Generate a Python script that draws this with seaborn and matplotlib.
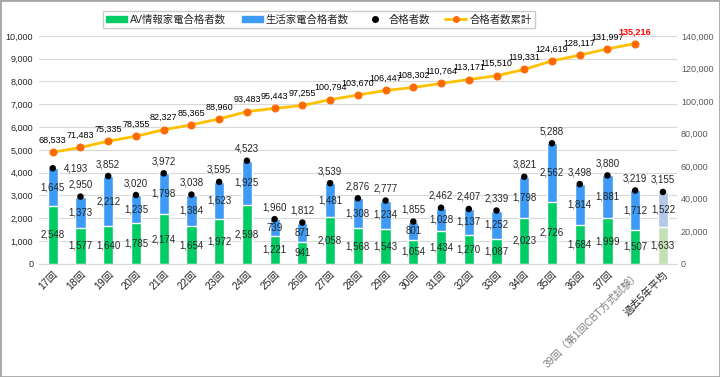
import matplotlib
matplotlib.use('Agg')
import matplotlib.pyplot as plt
import seaborn as sns
import numpy as np
from matplotlib.lines import Line2D
from matplotlib.patches import Patch, Rectangle

# data
cats = ['17回', '18回', '19回', '20回', '21回', '22回', '23回', '24回', '25回', '26回', '27回',
        '28回', '29回', '30回', '31回', '32回', '33回', '34回', '35回', '36回', '37回',
        '39回（第1回CBT方式試験）', '過去5年平均']
av = [2548, 1577, 1640, 1785, 2174, 1654, 1972, 2598, 1221, 941, 2058, 1568, 1543, 1054,
      1434, 1270, 1087, 2023, 2726, 1684, 1999, 1507, 1633]
life = [1645, 1373, 2212, 1235, 1798, 1384, 1623, 1925, 739, 871, 1481, 1308, 1234, 801,
        1028, 1137, 1252, 1798, 2562, 1814, 1881, 1712, 1522]
total = [4193, 2950, 3852, 3020, 3972, 3038, 3595, 4523, 1960, 1812, 3539, 2876, 2777, 1855,
         2462, 2407, 2339, 3821, 5288, 3498, 3880, 3219, 3155]
cum = [68533, 71483, 75335, 78355, 82327, 85365, 88960, 93483, 95443, 97255, 100794, 103670,
       106447, 108302, 110764, 113171, 115510, 119331, 124619, 128117, 131997, 135216]

sns.set_style('white')
plt.rcParams['font.family'] = ['Liberation Sans', 'Noto Sans CJK JP']

green, blue = '#00CC66', '#3D9BF5'
lgreen, lblue = '#C5E0B4', '#B4C7E7'
gcols = [green] * 22 + [lgreen]
bcols = [blue] * 22 + [lblue]

fig = plt.figure(figsize=(7.2, 3.77), dpi=100)
ax = fig.add_axes([0.054, 0.300, 0.886, 0.605])

x = np.arange(len(cats))
sns.barplot(x=cats, y=total, hue=cats, palette=bcols, order=cats, legend=False,
            width=0.37, ax=ax, saturation=1)
sns.barplot(x=cats, y=av, hue=cats, palette=gcols, order=cats, legend=False,
            width=0.37, ax=ax, saturation=1)
sns.scatterplot(x=x, y=total, color='black', s=22, ax=ax, zorder=5, edgecolor='none')

ax.set_ylim(0, 10000)
ax.set_xlim(-0.5, len(cats) - 0.5)
ax.set_yticks(range(0, 10001, 1000))
ax.set_yticklabels([f'{v:,}' for v in range(0, 10001, 1000)], fontsize=6.5)
ax.yaxis.grid(True, color='#D9D9D9', lw=0.8)
ax.set_axisbelow(True)
for s in ['top', 'left', 'right']:
    ax.spines[s].set_visible(False)
ax.spines['bottom'].set_color('#D9D9D9')
ax.tick_params(axis='both', length=0, pad=4)
ax.set_xticks(x)
ax.set_xticklabels(cats, rotation=45, ha='right', rotation_mode='anchor', fontsize=7.5)
ax.get_xticklabels()[21].set_color('#7F7F7F')

# segment labels
fs = 7
for i in range(len(cats)):
    ax.text(i, av[i] / 2, f'{av[i]:,}', ha='center', va='center', fontsize=fs)
    ax.text(i, av[i] + life[i] / 2, f'{life[i]:,}', ha='center', va='center', fontsize=fs)
    if i == 0:
        ax.annotate(f'{total[i]:,}', (i, total[i]), xytext=(23, 0), textcoords='offset pixels',
                    ha='center', va='center', fontsize=fs)
    else:
        ax.annotate(f'{total[i]:,}', (i, total[i]), xytext=(0, 12), textcoords='offset pixels',
                    ha='center', va='center', fontsize=fs)

ax2 = ax.twinx()
sns.lineplot(x=x[:len(cum)], y=cum, color='#FFC000', lw=2, marker='o', markersize=5,
             markerfacecolor='#FF6A00', markeredgecolor='#FF6A00', ax=ax2, zorder=4)
ax2.set_ylim(0, 140000)
ax2.set_yticks(range(0, 140001, 20000))
ax2.set_yticklabels([f'{v:,}' for v in range(0, 140001, 20000)], fontsize=6.5, color='#595959')
ax2.tick_params(axis='y', length=0, pad=3)
for s in ['top', 'left', 'right', 'bottom']:
    ax2.spines[s].set_visible(False)
for i, v in enumerate(cum):
    last = i == len(cum) - 1
    ax2.annotate(f'{v:,}', (i, v), xytext=(0, 12), textcoords='offset pixels',
                 ha='center', va='center', fontsize=6.5,
                 color='red' if last else 'black', fontweight='bold' if last else 'normal')

handles = [Patch(color=green), Patch(color=blue),
           Line2D([], [], marker='o', color='black', lw=0, markersize=4),
           Line2D([], [], color='#FFC000', lw=2, marker='o', markersize=4,
                  markerfacecolor='#FF6A00', markeredgecolor='#FF6A00')]
labels = ['AV情報家電合格者数', '生活家電合格者数', '合格者数', '合格者数累計']
fig.legend(handles, labels, loc='upper center', bbox_to_anchor=(0.443, 0.985), ncol=4,
           fontsize=7.5, frameon=True, fancybox=False, edgecolor='#BFBFBF',
           handlelength=2.0, handleheight=0.5, columnspacing=1.5, borderpad=0.35,
           handletextpad=0.3)

fig.patches.append(Rectangle((0, 0), 1, 1, transform=fig.transFigure, fill=False,
                             edgecolor='#A6A6A6', lw=2))

fig.savefig('out.png', dpi=100)
